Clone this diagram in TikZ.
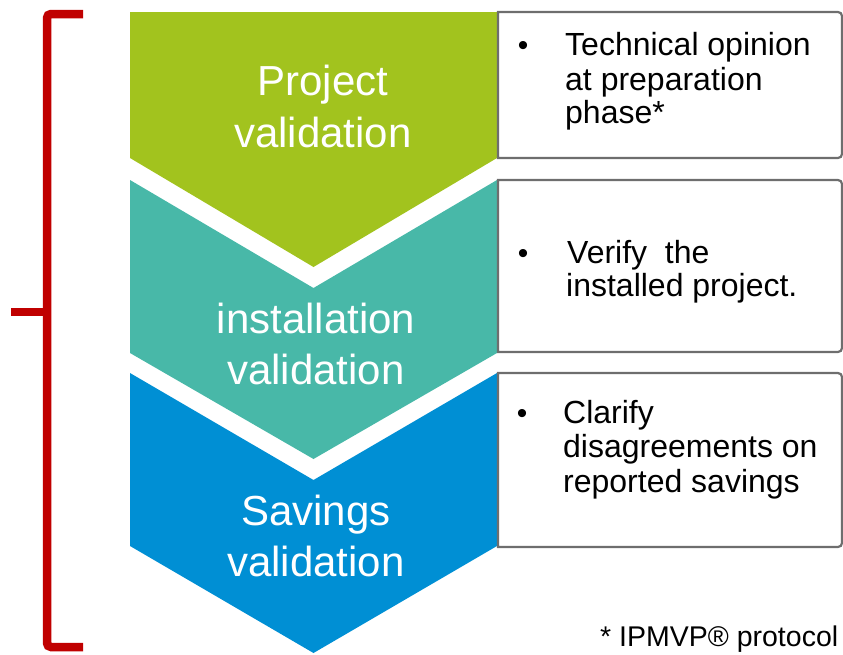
\documentclass[tikz,border=0pt]{standalone}
\usepackage{fontspec}
\setmainfont{Liberation Sans}
\definecolor{cgreen}{HTML}{A2C31E}
\definecolor{cteal}{HTML}{48B8A8}
\definecolor{cblue}{HTML}{008FD4}
\definecolor{cred}{HTML}{C00000}
\definecolor{cgray}{HTML}{6E6E6E}
\begin{document}
\begin{tikzpicture}[x=1pt,y=-1pt,
  chevtext/.style={text=white,font=\fontsize{42}{51}\selectfont,inner sep=0pt,anchor=base},
  boxtext/.style={text=black,font=\fontsize{32}{34}\selectfont,inner sep=0pt,anchor=base west},
  notetext/.style={text=black,font=\fontsize{28.5}{34}\selectfont,inner sep=0pt,anchor=base west},
  bullettext/.style={text=black,font=\fontsize{30}{34}\selectfont,inner sep=0pt,anchor=base},
  infobox/.style={draw=cgray,line width=2.2pt,fill=white},
  bracket/.style={draw=cred,line width=8.5pt}]
\useasboundingbox (0,0) rectangle (843,654);
% chevrons
\fill[cgreen] (130,12) -- (497,12) -- (497,158) -- (313.5,267) -- (130,158) -- cycle;
\fill[cteal] (130,180) -- (313.5,288) -- (497,180) -- (497,353) -- (313.5,459) -- (130,353) -- cycle;
\fill[cblue] (130,373) -- (313.5,480) -- (497,373) -- (497,546) -- (313.5,653) -- (130,546) -- cycle;
% boxes
\path[infobox] (498,12) -- (838,12) to[out=0,in=90] (842,16) -- (842,154) to[out=-90,in=0] (838,158) -- (498,158) -- cycle;
\path[infobox] (498,180) -- (838,180) to[out=0,in=90] (842,184) -- (842,348) to[out=-90,in=0] (838,352) -- (498,352) -- cycle;
\path[infobox] (498,373) -- (838,373) to[out=0,in=90] (842,377) -- (842,543) to[out=-90,in=0] (838,547) -- (498,547) -- cycle;
% chevron texts
\node[chevtext] (p1) at (323,95) {Project};
\node[chevtext] (p2) at (323,147) {validation};
\node[chevtext] (i1) at (316,333) {installation};
\node[chevtext] (i2) at (316,384) {validation};
\node[chevtext] (s1) at (316,525) {Savings};
\node[chevtext] (s2) at (316,576) {validation};
% box texts
\node[bullettext] (b1) at (523,55) {•};
\node[boxtext] (a1) at (565,55) {Technical opinion};
\node[boxtext] (a2) at (565,90) {at preparation};
\node[boxtext] (a3) at (565,123) {phase*};
\node[bullettext] (b2) at (523,263) {•};
\node[boxtext] (c1) at (567,263) {Verify\ \ the};
\node[boxtext] (c2) at (566,296) {installed project.};
\node[bullettext] (b3) at (522,423) {•};
\node[boxtext] (d1) at (563,423) {Clarify};
\node[boxtext] (d2) at (563,457) {disagreements on};
\node[boxtext] (d3) at (563,492) {reported savings};
% footnote
\node[notetext] (fn) at (600,646) {* IPMVP® protocol};
% bracket
\draw[bracket,rounded corners=4pt] (83,14) -- (47,14) -- (47,647) -- (83,647);
\draw[bracket] (11,312) -- (47,312);
\end{tikzpicture}
\end{document}
